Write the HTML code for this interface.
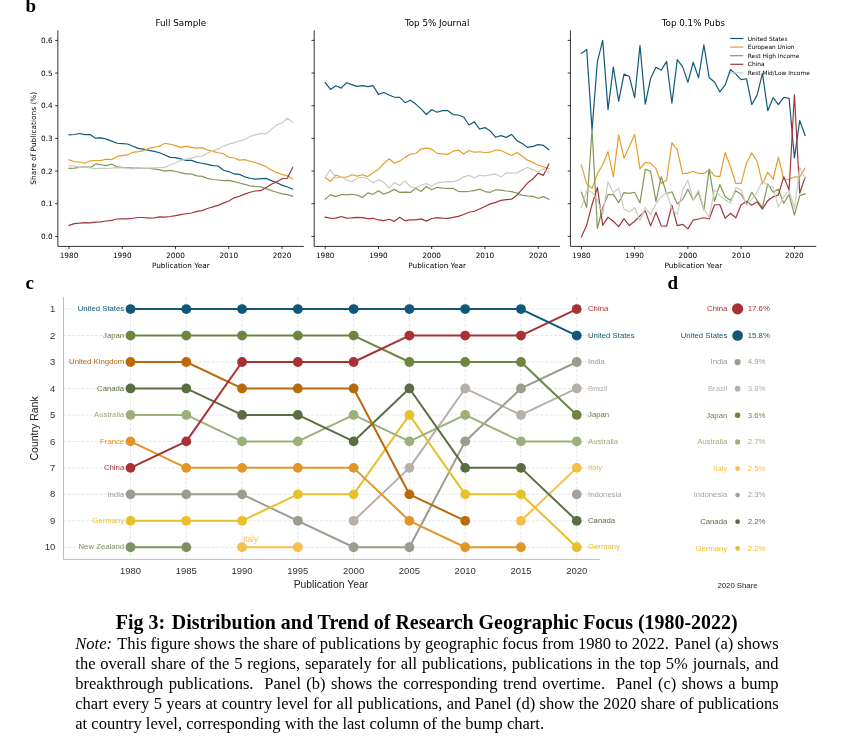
<!DOCTYPE html>
<html lang="en"><head><meta charset="utf-8"><title>Fig 3: Distribution and Trend of Research Geographic Focus</title>
<style>
html,body{margin:0;padding:0;background:#fff;}
body{width:863px;height:753px;position:relative;overflow:hidden;}
svg{position:absolute;left:0;top:0;display:block;}
svg text{white-space:pre;}
.title{position:absolute;left:115.8px;top:610.0px;font:bold 19.93px/24px "Liberation Serif","Times New Roman",serif;color:#000;white-space:nowrap;}
.ln{position:absolute;left:75.3px;height:20px;font:16.5px/20px "Liberation Serif","Times New Roman",serif;color:#000;white-space:nowrap;}
</style></head><body>
<svg width="863" height="753" viewBox="0 0 863 753">
<g>
<polyline points="69.00,134.94 74.33,134.50 79.65,133.48 84.97,134.65 90.30,134.65 95.62,138.15 100.95,137.86 106.28,139.18 111.60,141.08 116.93,143.27 122.25,143.56 127.58,144.00 132.90,146.19 138.23,148.38 143.55,149.12 148.88,150.29 154.20,151.31 159.53,152.77 164.85,154.96 170.18,157.34 175.50,157.71 180.82,158.81 186.15,160.40 191.48,160.40 196.80,162.32 202.12,163.27 207.45,164.39 212.78,165.66 218.10,165.98 223.43,170.28 228.75,171.56 234.08,173.95 239.40,174.42 244.72,176.81 250.05,178.25 255.38,179.04 260.70,178.72 266.02,178.41 271.35,180.64 276.68,182.71 282.00,185.10 287.33,187.01 292.65,189.08" fill="none" stroke="#115a79" stroke-width="1.2" stroke-linejoin="round" stroke-linecap="square"/>
<polyline points="69.00,159.79 74.33,161.54 79.65,161.98 84.97,163.29 90.30,160.81 95.62,160.52 100.95,160.52 106.28,159.05 111.60,159.64 116.93,156.42 122.25,155.69 127.58,154.96 132.90,152.33 138.23,151.60 143.55,150.58 148.88,148.38 154.20,147.22 159.53,146.19 164.85,143.27 170.18,144.24 175.50,145.61 180.82,147.66 186.15,146.07 191.48,147.34 196.80,148.14 202.12,147.66 207.45,150.05 212.78,151.32 218.10,152.76 223.43,153.71 228.75,157.22 234.08,158.01 239.40,160.09 244.72,159.61 250.05,161.20 255.38,162.79 260.70,164.39 266.02,166.78 271.35,169.96 276.68,172.67 282.00,174.42 287.33,175.86 292.65,179.04" fill="none" stroke="#e79d28" stroke-width="1.2" stroke-linejoin="round" stroke-linecap="square"/>
<polyline points="69.00,168.41 74.33,168.12 79.65,167.39 84.97,166.65 90.30,167.39 95.62,163.88 100.95,164.75 106.28,165.63 111.60,164.02 116.93,166.95 122.25,167.39 127.58,167.68 132.90,168.12 138.23,168.12 143.55,168.41 148.88,168.41 154.20,168.85 159.53,169.87 164.85,171.19 170.18,170.44 175.50,171.52 180.82,172.67 186.15,173.95 191.48,173.95 196.80,175.86 202.12,176.34 207.45,178.41 212.78,179.52 218.10,180.00 223.43,180.64 228.75,180.32 234.08,181.59 239.40,183.03 244.72,184.30 250.05,185.89 255.38,186.37 260.70,186.69 266.02,188.60 271.35,190.67 276.68,192.27 282.00,193.86 287.33,194.66 292.65,196.25" fill="none" stroke="#82975a" stroke-width="1.2" stroke-linejoin="round" stroke-linecap="square"/>
<polyline points="69.00,225.41 74.33,223.66 79.65,223.22 84.97,222.63 90.30,222.92 95.62,222.19 100.95,221.90 106.28,221.02 111.60,220.44 116.93,218.98 122.25,218.83 127.58,218.83 132.90,218.25 138.23,217.52 143.55,217.52 148.88,218.10 154.20,217.96 159.53,216.93 164.85,217.08 170.18,216.49 175.50,215.66 180.82,214.57 186.15,213.77 191.48,212.98 196.80,211.38 202.12,210.59 207.45,208.52 212.78,206.92 218.10,205.33 223.43,203.10 228.75,201.03 234.08,197.84 239.40,196.25 244.72,194.18 250.05,192.27 255.38,190.99 260.70,190.67 266.02,187.49 271.35,184.30 276.68,181.91 282.00,178.72 287.33,178.25 292.65,167.57" fill="none" stroke="#a3353a" stroke-width="1.2" stroke-linejoin="round" stroke-linecap="square"/>
<polyline points="69.00,165.92 74.33,165.92 79.65,167.39 84.97,166.80 90.30,167.82 95.62,168.55 100.95,168.26 106.28,168.41 111.60,168.12 116.93,167.68 122.25,167.82 127.58,168.12 132.90,168.85 138.23,167.82 143.55,168.26 148.88,168.12 154.20,167.82 159.53,167.53 164.85,167.39 170.18,164.97 175.50,162.77 180.82,160.40 186.15,159.13 191.48,158.33 196.80,156.42 202.12,156.10 207.45,153.23 212.78,150.85 218.10,148.93 223.43,146.07 228.75,144.15 234.08,142.88 239.40,140.81 244.72,139.69 250.05,136.51 255.38,134.91 260.70,133.32 266.02,133.80 271.35,129.34 276.68,124.88 282.00,122.97 287.33,118.19 292.65,122.17" fill="none" stroke="#cbcbc4" stroke-width="1.2" stroke-linejoin="round" stroke-linecap="square"/>
<path d="M57.85 30.3 V246.4 H303.75" fill="none" stroke="#000" stroke-width="0.8"/>
<line x1="55.15" x2="57.85" y1="236.40" y2="236.40" stroke="#000" stroke-width="0.8"/>
<text x="52.65" y="239.15" font-family="DejaVu Sans, Liberation Sans, sans-serif" font-size="7.3" text-anchor="end" fill="#000">0.0</text>
<line x1="55.15" x2="57.85" y1="203.73" y2="203.73" stroke="#000" stroke-width="0.8"/>
<text x="52.65" y="206.48" font-family="DejaVu Sans, Liberation Sans, sans-serif" font-size="7.3" text-anchor="end" fill="#000">0.1</text>
<line x1="55.15" x2="57.85" y1="171.07" y2="171.07" stroke="#000" stroke-width="0.8"/>
<text x="52.65" y="173.82" font-family="DejaVu Sans, Liberation Sans, sans-serif" font-size="7.3" text-anchor="end" fill="#000">0.2</text>
<line x1="55.15" x2="57.85" y1="138.40" y2="138.40" stroke="#000" stroke-width="0.8"/>
<text x="52.65" y="141.15" font-family="DejaVu Sans, Liberation Sans, sans-serif" font-size="7.3" text-anchor="end" fill="#000">0.3</text>
<line x1="55.15" x2="57.85" y1="105.73" y2="105.73" stroke="#000" stroke-width="0.8"/>
<text x="52.65" y="108.48" font-family="DejaVu Sans, Liberation Sans, sans-serif" font-size="7.3" text-anchor="end" fill="#000">0.4</text>
<line x1="55.15" x2="57.85" y1="73.06" y2="73.06" stroke="#000" stroke-width="0.8"/>
<text x="52.65" y="75.81" font-family="DejaVu Sans, Liberation Sans, sans-serif" font-size="7.3" text-anchor="end" fill="#000">0.5</text>
<line x1="55.15" x2="57.85" y1="40.40" y2="40.40" stroke="#000" stroke-width="0.8"/>
<text x="52.65" y="43.15" font-family="DejaVu Sans, Liberation Sans, sans-serif" font-size="7.3" text-anchor="end" fill="#000">0.6</text>
<line x1="69.00" x2="69.00" y1="246.4" y2="249.1" stroke="#000" stroke-width="0.8"/>
<text x="69.00" y="257.70" font-family="DejaVu Sans, Liberation Sans, sans-serif" font-size="7.3" text-anchor="middle" fill="#000">1980</text>
<line x1="122.25" x2="122.25" y1="246.4" y2="249.1" stroke="#000" stroke-width="0.8"/>
<text x="122.25" y="257.70" font-family="DejaVu Sans, Liberation Sans, sans-serif" font-size="7.3" text-anchor="middle" fill="#000">1990</text>
<line x1="175.50" x2="175.50" y1="246.4" y2="249.1" stroke="#000" stroke-width="0.8"/>
<text x="175.50" y="257.70" font-family="DejaVu Sans, Liberation Sans, sans-serif" font-size="7.3" text-anchor="middle" fill="#000">2000</text>
<line x1="228.75" x2="228.75" y1="246.4" y2="249.1" stroke="#000" stroke-width="0.8"/>
<text x="228.75" y="257.70" font-family="DejaVu Sans, Liberation Sans, sans-serif" font-size="7.3" text-anchor="middle" fill="#000">2010</text>
<line x1="282.00" x2="282.00" y1="246.4" y2="249.1" stroke="#000" stroke-width="0.8"/>
<text x="282.00" y="257.70" font-family="DejaVu Sans, Liberation Sans, sans-serif" font-size="7.3" text-anchor="middle" fill="#000">2020</text>
<text x="180.80" y="267.90" font-family="DejaVu Sans, Liberation Sans, sans-serif" font-size="7.3" text-anchor="middle" fill="#000">Publication Year</text>
<text x="180.80" y="26.2" font-family="DejaVu Sans, Liberation Sans, sans-serif" font-size="8.76" text-anchor="middle" fill="#000">Full Sample</text>
</g>
<g>
<polyline points="325.20,82.51 330.52,89.47 335.85,85.71 341.18,88.08 346.50,82.79 351.82,84.60 357.15,86.41 362.47,85.71 367.80,86.69 373.12,85.57 378.45,94.33 383.77,92.53 389.10,95.03 394.43,97.25 399.75,97.39 405.07,102.68 410.40,100.17 415.73,104.07 421.05,108.93 426.38,114.52 431.70,109.56 437.02,112.25 442.35,110.64 447.68,110.50 453.00,114.55 458.32,114.99 463.65,117.02 468.98,124.98 474.30,121.80 479.62,129.04 484.95,127.59 490.27,130.92 495.60,137.29 500.92,135.56 506.25,137.44 511.57,134.40 516.90,140.63 522.23,143.52 527.55,147.43 532.88,146.42 538.20,144.68 543.52,145.41 548.85,149.61" fill="none" stroke="#115a79" stroke-width="1.2" stroke-linejoin="round" stroke-linecap="square"/>
<polyline points="325.20,177.54 330.52,181.43 335.85,175.04 341.18,177.12 346.50,177.26 351.82,174.76 357.15,176.15 362.47,174.76 367.80,176.57 373.12,172.68 378.45,169.20 383.77,163.64 389.10,158.77 394.43,163.22 399.75,161.13 405.07,157.38 410.40,154.18 415.73,153.49 421.05,149.04 426.38,148.18 431.70,149.18 437.02,153.36 442.35,153.95 447.68,154.39 453.00,151.20 458.32,150.04 463.65,154.10 468.98,150.48 474.30,152.21 479.62,151.78 484.95,152.50 490.27,152.21 495.60,150.04 500.92,150.48 506.25,152.94 511.57,155.54 516.90,152.50 522.23,156.27 527.55,160.18 532.88,162.35 538.20,165.25 543.52,166.99 548.85,168.44" fill="none" stroke="#e79d28" stroke-width="1.2" stroke-linejoin="round" stroke-linecap="square"/>
<polyline points="325.20,199.09 330.52,194.64 335.85,196.59 341.18,194.51 346.50,194.92 351.82,194.23 357.15,195.20 362.47,197.42 367.80,192.84 373.12,194.23 378.45,190.75 383.77,194.23 389.10,192.14 394.43,189.36 399.75,192.42 405.07,192.14 410.40,192.42 415.73,188.25 421.05,191.45 426.38,186.48 431.70,189.81 437.02,187.25 442.35,188.09 447.68,188.38 453.00,188.38 458.32,191.28 463.65,191.57 468.98,191.28 474.30,190.56 479.62,189.11 484.95,191.57 490.27,192.29 495.60,189.83 500.92,190.12 506.25,190.99 511.57,191.57 516.90,193.02 522.23,195.34 527.55,195.92 532.88,196.35 538.20,198.23 543.52,196.64 548.85,199.25" fill="none" stroke="#82975a" stroke-width="1.2" stroke-linejoin="round" stroke-linecap="square"/>
<polyline points="325.20,217.17 330.52,218.28 335.85,218.14 341.18,216.47 346.50,218.14 351.82,217.86 357.15,217.45 362.47,217.59 367.80,218.56 373.12,218.28 378.45,219.95 383.77,220.65 389.10,219.25 394.43,221.34 399.75,217.17 405.07,220.65 410.40,219.95 415.73,219.95 421.05,218.84 426.38,221.16 431.70,218.47 437.02,217.54 442.35,218.08 447.68,218.37 453.00,217.35 458.32,216.34 463.65,214.46 468.98,212.28 474.30,211.27 479.62,208.95 484.95,206.49 490.27,203.88 495.60,202.43 500.92,200.41 506.25,199.54 511.57,199.25 516.90,195.19 522.23,189.11 527.55,183.02 532.88,178.97 538.20,173.17 543.52,175.35 548.85,164.05" fill="none" stroke="#a3353a" stroke-width="1.2" stroke-linejoin="round" stroke-linecap="square"/>
<polyline points="325.20,177.26 330.52,169.62 335.85,178.24 341.18,176.85 346.50,179.91 351.82,181.99 357.15,178.24 362.47,177.26 367.80,178.65 373.12,183.10 378.45,179.63 383.77,182.41 389.10,187.97 394.43,182.69 399.75,185.47 405.07,180.60 410.40,187.00 415.73,187.69 421.05,185.19 426.38,183.56 431.70,186.25 437.02,183.07 442.35,182.16 447.68,181.58 453.00,181.87 458.32,180.13 463.65,176.80 468.98,175.35 474.30,177.81 479.62,175.35 484.95,175.78 490.27,174.91 495.60,173.90 500.92,177.09 506.25,172.89 511.57,173.17 516.90,172.89 522.23,169.99 527.55,167.38 532.88,169.84 538.20,172.16 543.52,168.83 548.85,172.89" fill="none" stroke="#cbcbc4" stroke-width="1.2" stroke-linejoin="round" stroke-linecap="square"/>
<path d="M314.20 30.3 V246.4 H560.10" fill="none" stroke="#000" stroke-width="0.8"/>
<line x1="311.50" x2="314.20" y1="236.40" y2="236.40" stroke="#000" stroke-width="0.8"/>
<line x1="311.50" x2="314.20" y1="203.73" y2="203.73" stroke="#000" stroke-width="0.8"/>
<line x1="311.50" x2="314.20" y1="171.07" y2="171.07" stroke="#000" stroke-width="0.8"/>
<line x1="311.50" x2="314.20" y1="138.40" y2="138.40" stroke="#000" stroke-width="0.8"/>
<line x1="311.50" x2="314.20" y1="105.73" y2="105.73" stroke="#000" stroke-width="0.8"/>
<line x1="311.50" x2="314.20" y1="73.06" y2="73.06" stroke="#000" stroke-width="0.8"/>
<line x1="311.50" x2="314.20" y1="40.40" y2="40.40" stroke="#000" stroke-width="0.8"/>
<line x1="325.20" x2="325.20" y1="246.4" y2="249.1" stroke="#000" stroke-width="0.8"/>
<text x="325.20" y="257.70" font-family="DejaVu Sans, Liberation Sans, sans-serif" font-size="7.3" text-anchor="middle" fill="#000">1980</text>
<line x1="378.45" x2="378.45" y1="246.4" y2="249.1" stroke="#000" stroke-width="0.8"/>
<text x="378.45" y="257.70" font-family="DejaVu Sans, Liberation Sans, sans-serif" font-size="7.3" text-anchor="middle" fill="#000">1990</text>
<line x1="431.70" x2="431.70" y1="246.4" y2="249.1" stroke="#000" stroke-width="0.8"/>
<text x="431.70" y="257.70" font-family="DejaVu Sans, Liberation Sans, sans-serif" font-size="7.3" text-anchor="middle" fill="#000">2000</text>
<line x1="484.95" x2="484.95" y1="246.4" y2="249.1" stroke="#000" stroke-width="0.8"/>
<text x="484.95" y="257.70" font-family="DejaVu Sans, Liberation Sans, sans-serif" font-size="7.3" text-anchor="middle" fill="#000">2010</text>
<line x1="538.20" x2="538.20" y1="246.4" y2="249.1" stroke="#000" stroke-width="0.8"/>
<text x="538.20" y="257.70" font-family="DejaVu Sans, Liberation Sans, sans-serif" font-size="7.3" text-anchor="middle" fill="#000">2020</text>
<text x="437.15" y="267.90" font-family="DejaVu Sans, Liberation Sans, sans-serif" font-size="7.3" text-anchor="middle" fill="#000">Publication Year</text>
<text x="437.15" y="26.2" font-family="DejaVu Sans, Liberation Sans, sans-serif" font-size="8.76" text-anchor="middle" fill="#000">Top 5% Journal</text>
</g>
<g>
<polyline points="581.40,53.40 586.73,49.48 592.05,129.87 597.38,61.80 602.70,40.36 608.02,109.59 613.35,67.16 618.67,101.19 624.00,74.11 629.32,76.57 634.65,97.72 639.98,45.57 645.30,104.09 650.62,78.45 655.95,67.30 661.27,70.20 666.60,61.36 671.92,103.08 677.25,59.62 682.57,66.58 687.90,82.36 693.23,62.23 698.55,77.73 703.88,44.85 709.20,77.73 714.52,82.07 719.85,91.92 725.17,84.97 730.50,69.47 735.83,74.11 741.15,79.61 746.48,78.74 751.80,104.52 757.12,95.11 762.45,73.38 767.77,110.75 773.10,97.72 778.42,104.52 783.75,97.28 789.08,98.30 794.40,157.90 799.73,120.50 805.05,135.40" fill="none" stroke="#115a79" stroke-width="1.2" stroke-linejoin="round" stroke-linecap="square"/>
<polyline points="581.40,165.04 586.73,183.83 592.05,188.42 597.38,173.90 602.70,164.73 608.02,151.74 613.35,176.96 618.67,134.93 624.00,158.16 629.32,146.39 634.65,134.47 639.98,168.86 645.30,162.44 650.62,163.20 655.95,168.55 661.27,183.37 666.60,180.01 671.92,142.57 677.25,149.91 682.57,173.59 687.90,173.14 693.23,171.30 698.55,173.44 703.88,173.44 709.20,169.62 714.52,175.89 719.85,176.65 725.17,152.51 730.50,167.02 735.83,183.37 741.15,183.37 746.48,163.20 751.80,152.96 757.12,161.22 762.45,183.83 767.77,172.37 773.10,179.25 778.42,157.09 783.75,179.25 789.08,179.25 794.40,176.96 799.73,176.96 805.05,168.25" fill="none" stroke="#e79d28" stroke-width="1.2" stroke-linejoin="round" stroke-linecap="square"/>
<polyline points="581.40,192.24 586.73,207.52 592.05,129.58 597.38,228.45 602.70,207.52 608.02,194.53 613.35,194.53 618.67,202.63 624.00,192.54 629.32,193.31 634.65,192.24 639.98,202.93 645.30,169.32 650.62,171.30 655.95,201.41 661.27,176.65 666.60,193.77 671.92,191.78 677.25,204.00 682.57,199.42 687.90,189.18 693.23,199.88 698.55,192.62 703.88,209.81 709.20,169.01 714.52,201.41 719.85,184.60 725.17,196.82 730.50,200.34 735.83,190.71 741.15,194.53 746.48,203.70 751.80,192.24 757.12,200.34 762.45,207.52 767.77,183.83 773.10,192.24 778.42,189.18 783.75,203.24 789.08,194.53 794.40,215.16 799.73,195.60 805.05,193.77" fill="none" stroke="#82975a" stroke-width="1.2" stroke-linejoin="round" stroke-linecap="square"/>
<polyline points="581.40,237.01 586.73,225.09 592.05,204.46 597.38,187.35 602.70,225.40 608.02,217.15 613.35,221.27 618.67,226.62 624.00,218.67 629.32,225.55 634.65,221.27 639.98,215.92 645.30,210.88 650.62,225.86 655.95,212.41 661.27,225.86 666.60,226.16 671.92,205.23 677.25,225.55 682.57,224.33 687.90,228.91 693.23,220.05 698.55,218.98 703.88,217.76 709.20,218.98 714.52,204.77 719.85,204.77 725.17,218.22 730.50,213.33 735.83,217.76 741.15,204.77 746.48,201.41 751.80,205.23 757.12,201.86 762.45,209.05 767.77,200.64 773.10,196.82 778.42,194.83 783.75,176.65 789.08,189.94 794.40,94.70 799.73,193.31 805.05,177.41" fill="none" stroke="#a3353a" stroke-width="1.2" stroke-linejoin="round" stroke-linecap="square"/>
<polyline points="581.40,207.52 586.73,190.71 592.05,192.24 597.38,199.88 602.70,214.39 608.02,181.85 613.35,193.00 618.67,188.11 624.00,209.05 629.32,212.10 634.65,207.52 639.98,220.51 645.30,207.52 650.62,214.70 655.95,203.70 661.27,196.82 666.60,192.24 671.92,209.05 677.25,214.39 682.57,189.94 687.90,180.32 693.23,199.88 698.55,189.94 703.88,209.05 709.20,217.45 714.52,189.94 719.85,195.60 725.17,199.88 730.50,203.24 735.83,187.65 741.15,189.94 746.48,205.23 751.80,199.42 757.12,192.24 762.45,180.78 767.77,185.36 773.10,187.19 778.42,207.06 783.75,196.82 789.08,190.71 794.40,208.74 799.73,167.33 805.05,178.48" fill="none" stroke="#cbcbc4" stroke-width="1.2" stroke-linejoin="round" stroke-linecap="square"/>
<path d="M570.40 30.3 V246.4 H816.30" fill="none" stroke="#000" stroke-width="0.8"/>
<line x1="567.70" x2="570.40" y1="236.40" y2="236.40" stroke="#000" stroke-width="0.8"/>
<line x1="567.70" x2="570.40" y1="203.73" y2="203.73" stroke="#000" stroke-width="0.8"/>
<line x1="567.70" x2="570.40" y1="171.07" y2="171.07" stroke="#000" stroke-width="0.8"/>
<line x1="567.70" x2="570.40" y1="138.40" y2="138.40" stroke="#000" stroke-width="0.8"/>
<line x1="567.70" x2="570.40" y1="105.73" y2="105.73" stroke="#000" stroke-width="0.8"/>
<line x1="567.70" x2="570.40" y1="73.06" y2="73.06" stroke="#000" stroke-width="0.8"/>
<line x1="567.70" x2="570.40" y1="40.40" y2="40.40" stroke="#000" stroke-width="0.8"/>
<line x1="581.40" x2="581.40" y1="246.4" y2="249.1" stroke="#000" stroke-width="0.8"/>
<text x="581.40" y="257.70" font-family="DejaVu Sans, Liberation Sans, sans-serif" font-size="7.3" text-anchor="middle" fill="#000">1980</text>
<line x1="634.65" x2="634.65" y1="246.4" y2="249.1" stroke="#000" stroke-width="0.8"/>
<text x="634.65" y="257.70" font-family="DejaVu Sans, Liberation Sans, sans-serif" font-size="7.3" text-anchor="middle" fill="#000">1990</text>
<line x1="687.90" x2="687.90" y1="246.4" y2="249.1" stroke="#000" stroke-width="0.8"/>
<text x="687.90" y="257.70" font-family="DejaVu Sans, Liberation Sans, sans-serif" font-size="7.3" text-anchor="middle" fill="#000">2000</text>
<line x1="741.15" x2="741.15" y1="246.4" y2="249.1" stroke="#000" stroke-width="0.8"/>
<text x="741.15" y="257.70" font-family="DejaVu Sans, Liberation Sans, sans-serif" font-size="7.3" text-anchor="middle" fill="#000">2010</text>
<line x1="794.40" x2="794.40" y1="246.4" y2="249.1" stroke="#000" stroke-width="0.8"/>
<text x="794.40" y="257.70" font-family="DejaVu Sans, Liberation Sans, sans-serif" font-size="7.3" text-anchor="middle" fill="#000">2020</text>
<text x="693.35" y="267.90" font-family="DejaVu Sans, Liberation Sans, sans-serif" font-size="7.3" text-anchor="middle" fill="#000">Publication Year</text>
<text x="693.35" y="26.2" font-family="DejaVu Sans, Liberation Sans, sans-serif" font-size="8.76" text-anchor="middle" fill="#000">Top 0.1% Pubs</text>
</g>
<text transform="translate(35.6 138.2) rotate(-90)" font-family="DejaVu Sans, Liberation Sans, sans-serif" font-size="7.42" text-anchor="middle" fill="#000">Share of Publications (%)</text>
<line x1="730.2" x2="743.3" y1="38.50" y2="38.50" stroke="#115a79" stroke-width="1.2"/>
<text x="747.8" y="40.60" font-family="DejaVu Sans, Liberation Sans, sans-serif" font-size="5.86" fill="#000">United States</text>
<line x1="730.2" x2="743.3" y1="47.10" y2="47.10" stroke="#e79d28" stroke-width="1.2"/>
<text x="747.8" y="49.20" font-family="DejaVu Sans, Liberation Sans, sans-serif" font-size="5.86" fill="#000">European Union</text>
<line x1="730.2" x2="743.3" y1="55.70" y2="55.70" stroke="#82975a" stroke-width="1.2"/>
<text x="747.8" y="57.80" font-family="DejaVu Sans, Liberation Sans, sans-serif" font-size="5.86" fill="#000">Rest High Income</text>
<line x1="730.2" x2="743.3" y1="64.30" y2="64.30" stroke="#a3353a" stroke-width="1.2"/>
<text x="747.8" y="66.40" font-family="DejaVu Sans, Liberation Sans, sans-serif" font-size="5.86" fill="#000">China</text>
<line x1="730.2" x2="743.3" y1="72.90" y2="72.90" stroke="#cbcbc4" stroke-width="1.2"/>
<text x="747.8" y="75.00" font-family="DejaVu Sans, Liberation Sans, sans-serif" font-size="5.86" fill="#000">Rest Mid/Low Income</text>
<text x="25.5" y="11.5" font-family="Liberation Serif, Times New Roman, serif" font-size="19" font-weight="bold" fill="#000">b</text>
<text x="25.5" y="289.2" font-family="Liberation Serif, Times New Roman, serif" font-size="19" font-weight="bold" fill="#000">c</text>
<text x="667.5" y="288.8" font-family="Liberation Serif, Times New Roman, serif" font-size="19" font-weight="bold" fill="#000">d</text>
<line x1="63.5" x2="599.8" y1="309.07" y2="309.07" stroke="#dedede" stroke-width="0.8" stroke-dasharray="3 1.5"/>
<text x="55.3" y="312.17" font-family="Liberation Sans, Arial, sans-serif" font-size="9.5" text-anchor="end" fill="#333">1</text>
<line x1="63.5" x2="599.8" y1="335.54" y2="335.54" stroke="#dedede" stroke-width="0.8" stroke-dasharray="3 1.5"/>
<text x="55.3" y="338.64" font-family="Liberation Sans, Arial, sans-serif" font-size="9.5" text-anchor="end" fill="#333">2</text>
<line x1="63.5" x2="599.8" y1="362.00" y2="362.00" stroke="#dedede" stroke-width="0.8" stroke-dasharray="3 1.5"/>
<text x="55.3" y="365.10" font-family="Liberation Sans, Arial, sans-serif" font-size="9.5" text-anchor="end" fill="#333">3</text>
<line x1="63.5" x2="599.8" y1="388.47" y2="388.47" stroke="#dedede" stroke-width="0.8" stroke-dasharray="3 1.5"/>
<text x="55.3" y="391.57" font-family="Liberation Sans, Arial, sans-serif" font-size="9.5" text-anchor="end" fill="#333">4</text>
<line x1="63.5" x2="599.8" y1="414.94" y2="414.94" stroke="#dedede" stroke-width="0.8" stroke-dasharray="3 1.5"/>
<text x="55.3" y="418.04" font-family="Liberation Sans, Arial, sans-serif" font-size="9.5" text-anchor="end" fill="#333">5</text>
<line x1="63.5" x2="599.8" y1="441.40" y2="441.40" stroke="#dedede" stroke-width="0.8" stroke-dasharray="3 1.5"/>
<text x="55.3" y="444.50" font-family="Liberation Sans, Arial, sans-serif" font-size="9.5" text-anchor="end" fill="#333">6</text>
<line x1="63.5" x2="599.8" y1="467.87" y2="467.87" stroke="#dedede" stroke-width="0.8" stroke-dasharray="3 1.5"/>
<text x="55.3" y="470.97" font-family="Liberation Sans, Arial, sans-serif" font-size="9.5" text-anchor="end" fill="#333">7</text>
<line x1="63.5" x2="599.8" y1="494.34" y2="494.34" stroke="#dedede" stroke-width="0.8" stroke-dasharray="3 1.5"/>
<text x="55.3" y="497.44" font-family="Liberation Sans, Arial, sans-serif" font-size="9.5" text-anchor="end" fill="#333">8</text>
<line x1="63.5" x2="599.8" y1="520.81" y2="520.81" stroke="#dedede" stroke-width="0.8" stroke-dasharray="3 1.5"/>
<text x="55.3" y="523.91" font-family="Liberation Sans, Arial, sans-serif" font-size="9.5" text-anchor="end" fill="#333">9</text>
<line x1="63.5" x2="599.8" y1="547.27" y2="547.27" stroke="#dedede" stroke-width="0.8" stroke-dasharray="3 1.5"/>
<text x="55.3" y="550.37" font-family="Liberation Sans, Arial, sans-serif" font-size="9.5" text-anchor="end" fill="#333">10</text>
<line x1="130.50" x2="130.50" y1="297.1" y2="559.4" stroke="#dedede" stroke-width="0.8" stroke-dasharray="3 1.5"/>
<text x="130.50" y="574.2" font-family="Liberation Sans, Arial, sans-serif" font-size="9.5" text-anchor="middle" fill="#333">1980</text>
<line x1="186.28" x2="186.28" y1="297.1" y2="559.4" stroke="#dedede" stroke-width="0.8" stroke-dasharray="3 1.5"/>
<text x="186.28" y="574.2" font-family="Liberation Sans, Arial, sans-serif" font-size="9.5" text-anchor="middle" fill="#333">1985</text>
<line x1="242.06" x2="242.06" y1="297.1" y2="559.4" stroke="#dedede" stroke-width="0.8" stroke-dasharray="3 1.5"/>
<text x="242.06" y="574.2" font-family="Liberation Sans, Arial, sans-serif" font-size="9.5" text-anchor="middle" fill="#333">1990</text>
<line x1="297.84" x2="297.84" y1="297.1" y2="559.4" stroke="#dedede" stroke-width="0.8" stroke-dasharray="3 1.5"/>
<text x="297.84" y="574.2" font-family="Liberation Sans, Arial, sans-serif" font-size="9.5" text-anchor="middle" fill="#333">1995</text>
<line x1="353.62" x2="353.62" y1="297.1" y2="559.4" stroke="#dedede" stroke-width="0.8" stroke-dasharray="3 1.5"/>
<text x="353.62" y="574.2" font-family="Liberation Sans, Arial, sans-serif" font-size="9.5" text-anchor="middle" fill="#333">2000</text>
<line x1="409.40" x2="409.40" y1="297.1" y2="559.4" stroke="#dedede" stroke-width="0.8" stroke-dasharray="3 1.5"/>
<text x="409.40" y="574.2" font-family="Liberation Sans, Arial, sans-serif" font-size="9.5" text-anchor="middle" fill="#333">2005</text>
<line x1="465.18" x2="465.18" y1="297.1" y2="559.4" stroke="#dedede" stroke-width="0.8" stroke-dasharray="3 1.5"/>
<text x="465.18" y="574.2" font-family="Liberation Sans, Arial, sans-serif" font-size="9.5" text-anchor="middle" fill="#333">2010</text>
<line x1="520.96" x2="520.96" y1="297.1" y2="559.4" stroke="#dedede" stroke-width="0.8" stroke-dasharray="3 1.5"/>
<text x="520.96" y="574.2" font-family="Liberation Sans, Arial, sans-serif" font-size="9.5" text-anchor="middle" fill="#333">2015</text>
<line x1="576.74" x2="576.74" y1="297.1" y2="559.4" stroke="#dedede" stroke-width="0.8" stroke-dasharray="3 1.5"/>
<text x="576.74" y="574.2" font-family="Liberation Sans, Arial, sans-serif" font-size="9.5" text-anchor="middle" fill="#333">2020</text>
<path d="M63.5 297.1 V559.4 H599.8" fill="none" stroke="#bebebe" stroke-width="1"/>
<text x="330.9" y="587.8" font-family="Liberation Sans, Arial, sans-serif" font-size="10.4" text-anchor="middle" fill="#222">Publication Year</text>
<text transform="translate(38.2 428.4) rotate(-90)" font-family="Liberation Sans, Arial, sans-serif" font-size="10.5" text-anchor="middle" fill="#222">Country Rank</text>
<polyline points="130.50,547.27 186.28,547.27" fill="none" stroke="#7d9260" stroke-width="2" stroke-linejoin="round"/>
<circle cx="130.50" cy="547.27" r="4.9" fill="#7d9260"/>
<circle cx="186.28" cy="547.27" r="4.9" fill="#7d9260"/>
<text x="124.2" y="549.47" font-family="Liberation Sans, Arial, sans-serif" font-size="7.75" text-anchor="end" fill="#7d9260">New Zealand</text>
<circle cx="576.74" cy="494.34" r="4.9" fill="#a3a39a"/>
<text x="588.0" y="496.54" font-family="Liberation Sans, Arial, sans-serif" font-size="7.75" fill="#a3a39a">Indonesia</text>
<polyline points="353.62,520.81 409.40,467.87 465.18,388.47 520.96,414.94 576.74,388.47" fill="none" stroke="#b7b0a8" stroke-width="2" stroke-linejoin="round"/>
<circle cx="353.62" cy="520.81" r="4.9" fill="#b7b0a8"/>
<circle cx="409.40" cy="467.87" r="4.9" fill="#b7b0a8"/>
<circle cx="465.18" cy="388.47" r="4.9" fill="#b7b0a8"/>
<circle cx="520.96" cy="414.94" r="4.9" fill="#b7b0a8"/>
<circle cx="576.74" cy="388.47" r="4.9" fill="#b7b0a8"/>
<text x="588.0" y="390.67" font-family="Liberation Sans, Arial, sans-serif" font-size="7.75" fill="#b7b0a8">Brazil</text>
<polyline points="242.06,547.27 297.84,547.27" fill="none" stroke="#f6be4b" stroke-width="2" stroke-linejoin="round"/>
<circle cx="242.06" cy="547.27" r="4.9" fill="#f6be4b"/>
<circle cx="297.84" cy="547.27" r="4.9" fill="#f6be4b"/>
<polyline points="520.96,520.81 576.74,467.87" fill="none" stroke="#f6be4b" stroke-width="2" stroke-linejoin="round"/>
<circle cx="520.96" cy="520.81" r="4.9" fill="#f6be4b"/>
<circle cx="576.74" cy="467.87" r="4.9" fill="#f6be4b"/>
<text x="243.06" y="541.97" font-family="Liberation Sans, Arial, sans-serif" font-size="8.15" fill="#f6be4b">Italy</text>
<text x="588.0" y="470.07" font-family="Liberation Sans, Arial, sans-serif" font-size="7.75" fill="#f6be4b">Italy</text>
<polyline points="130.50,494.34 186.28,494.34 242.06,494.34 297.84,520.81 353.62,547.27 409.40,547.27 465.18,441.40 520.96,388.47 576.74,362.00" fill="none" stroke="#9b9b8e" stroke-width="2" stroke-linejoin="round"/>
<circle cx="130.50" cy="494.34" r="4.9" fill="#9b9b8e"/>
<circle cx="186.28" cy="494.34" r="4.9" fill="#9b9b8e"/>
<circle cx="242.06" cy="494.34" r="4.9" fill="#9b9b8e"/>
<circle cx="297.84" cy="520.81" r="4.9" fill="#9b9b8e"/>
<circle cx="353.62" cy="547.27" r="4.9" fill="#9b9b8e"/>
<circle cx="409.40" cy="547.27" r="4.9" fill="#9b9b8e"/>
<circle cx="465.18" cy="441.40" r="4.9" fill="#9b9b8e"/>
<circle cx="520.96" cy="388.47" r="4.9" fill="#9b9b8e"/>
<circle cx="576.74" cy="362.00" r="4.9" fill="#9b9b8e"/>
<text x="124.2" y="496.54" font-family="Liberation Sans, Arial, sans-serif" font-size="7.75" text-anchor="end" fill="#9b9b8e">India</text>
<text x="588.0" y="364.20" font-family="Liberation Sans, Arial, sans-serif" font-size="7.75" fill="#9b9b8e">India</text>
<polyline points="130.50,520.81 186.28,520.81 242.06,520.81 297.84,494.34 353.62,494.34 409.40,414.94 465.18,494.34 520.96,494.34 576.74,547.27" fill="none" stroke="#e8c02c" stroke-width="2" stroke-linejoin="round"/>
<circle cx="130.50" cy="520.81" r="4.9" fill="#e8c02c"/>
<circle cx="186.28" cy="520.81" r="4.9" fill="#e8c02c"/>
<circle cx="242.06" cy="520.81" r="4.9" fill="#e8c02c"/>
<circle cx="297.84" cy="494.34" r="4.9" fill="#e8c02c"/>
<circle cx="353.62" cy="494.34" r="4.9" fill="#e8c02c"/>
<circle cx="409.40" cy="414.94" r="4.9" fill="#e8c02c"/>
<circle cx="465.18" cy="494.34" r="4.9" fill="#e8c02c"/>
<circle cx="520.96" cy="494.34" r="4.9" fill="#e8c02c"/>
<circle cx="576.74" cy="547.27" r="4.9" fill="#e8c02c"/>
<text x="124.2" y="523.01" font-family="Liberation Sans, Arial, sans-serif" font-size="7.75" text-anchor="end" fill="#e8c02c">Germany</text>
<text x="588.0" y="549.47" font-family="Liberation Sans, Arial, sans-serif" font-size="7.75" fill="#e8c02c">Germany</text>
<polyline points="130.50,441.40 186.28,467.87 242.06,467.87 297.84,467.87 353.62,467.87 409.40,520.81 465.18,547.27 520.96,547.27" fill="none" stroke="#e39528" stroke-width="2" stroke-linejoin="round"/>
<circle cx="130.50" cy="441.40" r="4.9" fill="#e39528"/>
<circle cx="186.28" cy="467.87" r="4.9" fill="#e39528"/>
<circle cx="242.06" cy="467.87" r="4.9" fill="#e39528"/>
<circle cx="297.84" cy="467.87" r="4.9" fill="#e39528"/>
<circle cx="353.62" cy="467.87" r="4.9" fill="#e39528"/>
<circle cx="409.40" cy="520.81" r="4.9" fill="#e39528"/>
<circle cx="465.18" cy="547.27" r="4.9" fill="#e39528"/>
<circle cx="520.96" cy="547.27" r="4.9" fill="#e39528"/>
<text x="124.2" y="443.60" font-family="Liberation Sans, Arial, sans-serif" font-size="7.75" text-anchor="end" fill="#e39528">France</text>
<polyline points="130.50,414.94 186.28,414.94 242.06,441.40 297.84,441.40 353.62,414.94 409.40,441.40 465.18,414.94 520.96,441.40 576.74,441.40" fill="none" stroke="#9cb07a" stroke-width="2" stroke-linejoin="round"/>
<circle cx="130.50" cy="414.94" r="4.9" fill="#9cb07a"/>
<circle cx="186.28" cy="414.94" r="4.9" fill="#9cb07a"/>
<circle cx="242.06" cy="441.40" r="4.9" fill="#9cb07a"/>
<circle cx="297.84" cy="441.40" r="4.9" fill="#9cb07a"/>
<circle cx="353.62" cy="414.94" r="4.9" fill="#9cb07a"/>
<circle cx="409.40" cy="441.40" r="4.9" fill="#9cb07a"/>
<circle cx="465.18" cy="414.94" r="4.9" fill="#9cb07a"/>
<circle cx="520.96" cy="441.40" r="4.9" fill="#9cb07a"/>
<circle cx="576.74" cy="441.40" r="4.9" fill="#9cb07a"/>
<text x="124.2" y="417.14" font-family="Liberation Sans, Arial, sans-serif" font-size="7.75" text-anchor="end" fill="#9cb07a">Australia</text>
<text x="588.0" y="443.60" font-family="Liberation Sans, Arial, sans-serif" font-size="7.75" fill="#9cb07a">Australia</text>
<polyline points="130.50,388.47 186.28,388.47 242.06,414.94 297.84,414.94 353.62,441.40 409.40,388.47 465.18,467.87 520.96,467.87 576.74,520.81" fill="none" stroke="#5b6d42" stroke-width="2" stroke-linejoin="round"/>
<circle cx="130.50" cy="388.47" r="4.9" fill="#5b6d42"/>
<circle cx="186.28" cy="388.47" r="4.9" fill="#5b6d42"/>
<circle cx="242.06" cy="414.94" r="4.9" fill="#5b6d42"/>
<circle cx="297.84" cy="414.94" r="4.9" fill="#5b6d42"/>
<circle cx="353.62" cy="441.40" r="4.9" fill="#5b6d42"/>
<circle cx="409.40" cy="388.47" r="4.9" fill="#5b6d42"/>
<circle cx="465.18" cy="467.87" r="4.9" fill="#5b6d42"/>
<circle cx="520.96" cy="467.87" r="4.9" fill="#5b6d42"/>
<circle cx="576.74" cy="520.81" r="4.9" fill="#5b6d42"/>
<text x="124.2" y="390.67" font-family="Liberation Sans, Arial, sans-serif" font-size="7.75" text-anchor="end" fill="#5b6d42">Canada</text>
<text x="588.0" y="523.01" font-family="Liberation Sans, Arial, sans-serif" font-size="7.75" fill="#5b6d42">Canada</text>
<polyline points="130.50,362.00 186.28,362.00 242.06,388.47 297.84,388.47 353.62,388.47 409.40,494.34 465.18,520.81" fill="none" stroke="#b96a0d" stroke-width="2" stroke-linejoin="round"/>
<circle cx="130.50" cy="362.00" r="4.9" fill="#b96a0d"/>
<circle cx="186.28" cy="362.00" r="4.9" fill="#b96a0d"/>
<circle cx="242.06" cy="388.47" r="4.9" fill="#b96a0d"/>
<circle cx="297.84" cy="388.47" r="4.9" fill="#b96a0d"/>
<circle cx="353.62" cy="388.47" r="4.9" fill="#b96a0d"/>
<circle cx="409.40" cy="494.34" r="4.9" fill="#b96a0d"/>
<circle cx="465.18" cy="520.81" r="4.9" fill="#b96a0d"/>
<text x="124.2" y="364.20" font-family="Liberation Sans, Arial, sans-serif" font-size="7.75" text-anchor="end" fill="#b96a0d">United Kingdom</text>
<polyline points="130.50,335.54 186.28,335.54 242.06,335.54 297.84,335.54 353.62,335.54 409.40,362.00 465.18,362.00 520.96,362.00 576.74,414.94" fill="none" stroke="#6c8540" stroke-width="2" stroke-linejoin="round"/>
<circle cx="130.50" cy="335.54" r="4.9" fill="#6c8540"/>
<circle cx="186.28" cy="335.54" r="4.9" fill="#6c8540"/>
<circle cx="242.06" cy="335.54" r="4.9" fill="#6c8540"/>
<circle cx="297.84" cy="335.54" r="4.9" fill="#6c8540"/>
<circle cx="353.62" cy="335.54" r="4.9" fill="#6c8540"/>
<circle cx="409.40" cy="362.00" r="4.9" fill="#6c8540"/>
<circle cx="465.18" cy="362.00" r="4.9" fill="#6c8540"/>
<circle cx="520.96" cy="362.00" r="4.9" fill="#6c8540"/>
<circle cx="576.74" cy="414.94" r="4.9" fill="#6c8540"/>
<text x="124.2" y="337.74" font-family="Liberation Sans, Arial, sans-serif" font-size="7.75" text-anchor="end" fill="#6c8540">Japan</text>
<text x="588.0" y="417.14" font-family="Liberation Sans, Arial, sans-serif" font-size="7.75" fill="#6c8540">Japan</text>
<polyline points="130.50,467.87 186.28,441.40 242.06,362.00 297.84,362.00 353.62,362.00 409.40,335.54 465.18,335.54 520.96,335.54 576.74,309.07" fill="none" stroke="#a83133" stroke-width="2" stroke-linejoin="round"/>
<circle cx="130.50" cy="467.87" r="4.9" fill="#a83133"/>
<circle cx="186.28" cy="441.40" r="4.9" fill="#a83133"/>
<circle cx="242.06" cy="362.00" r="4.9" fill="#a83133"/>
<circle cx="297.84" cy="362.00" r="4.9" fill="#a83133"/>
<circle cx="353.62" cy="362.00" r="4.9" fill="#a83133"/>
<circle cx="409.40" cy="335.54" r="4.9" fill="#a83133"/>
<circle cx="465.18" cy="335.54" r="4.9" fill="#a83133"/>
<circle cx="520.96" cy="335.54" r="4.9" fill="#a83133"/>
<circle cx="576.74" cy="309.07" r="4.9" fill="#a83133"/>
<text x="124.2" y="470.07" font-family="Liberation Sans, Arial, sans-serif" font-size="7.75" text-anchor="end" fill="#a83133">China</text>
<text x="588.0" y="311.27" font-family="Liberation Sans, Arial, sans-serif" font-size="7.75" fill="#a83133">China</text>
<polyline points="130.50,309.07 186.28,309.07 242.06,309.07 297.84,309.07 353.62,309.07 409.40,309.07 465.18,309.07 520.96,309.07 576.74,335.54" fill="none" stroke="#0f5877" stroke-width="2" stroke-linejoin="round"/>
<circle cx="130.50" cy="309.07" r="4.9" fill="#0f5877"/>
<circle cx="186.28" cy="309.07" r="4.9" fill="#0f5877"/>
<circle cx="242.06" cy="309.07" r="4.9" fill="#0f5877"/>
<circle cx="297.84" cy="309.07" r="4.9" fill="#0f5877"/>
<circle cx="353.62" cy="309.07" r="4.9" fill="#0f5877"/>
<circle cx="409.40" cy="309.07" r="4.9" fill="#0f5877"/>
<circle cx="465.18" cy="309.07" r="4.9" fill="#0f5877"/>
<circle cx="520.96" cy="309.07" r="4.9" fill="#0f5877"/>
<circle cx="576.74" cy="335.54" r="4.9" fill="#0f5877"/>
<text x="124.2" y="311.27" font-family="Liberation Sans, Arial, sans-serif" font-size="7.75" text-anchor="end" fill="#0f5877">United States</text>
<text x="588.0" y="337.74" font-family="Liberation Sans, Arial, sans-serif" font-size="7.75" fill="#0f5877">United States</text>
<circle cx="737.6" cy="308.90" r="5.6" fill="#a83133"/>
<text x="727.3" y="311.10" font-family="Liberation Sans, Arial, sans-serif" font-size="7.75" text-anchor="end" fill="#a83133">China</text>
<text x="747.8" y="311.10" font-family="Liberation Sans, Arial, sans-serif" font-size="7.75" fill="#a83133">17.6%</text>
<circle cx="737.6" cy="335.50" r="5.35" fill="#0f5877"/>
<text x="727.3" y="337.70" font-family="Liberation Sans, Arial, sans-serif" font-size="7.75" text-anchor="end" fill="#0f5877">United States</text>
<text x="747.8" y="337.70" font-family="Liberation Sans, Arial, sans-serif" font-size="7.75" fill="#0f5877">15.8%</text>
<circle cx="737.6" cy="362.10" r="3.1" fill="#9b9b8e"/>
<text x="727.3" y="364.30" font-family="Liberation Sans, Arial, sans-serif" font-size="7.75" text-anchor="end" fill="#9b9b8e">India</text>
<text x="747.8" y="364.30" font-family="Liberation Sans, Arial, sans-serif" font-size="7.75" fill="#9b9b8e">4.9%</text>
<circle cx="737.6" cy="388.70" r="2.85" fill="#b7b0a8"/>
<text x="727.3" y="390.90" font-family="Liberation Sans, Arial, sans-serif" font-size="7.75" text-anchor="end" fill="#b7b0a8">Brazil</text>
<text x="747.8" y="390.90" font-family="Liberation Sans, Arial, sans-serif" font-size="7.75" fill="#b7b0a8">3.8%</text>
<circle cx="737.6" cy="415.30" r="2.75" fill="#6c8540"/>
<text x="727.3" y="417.50" font-family="Liberation Sans, Arial, sans-serif" font-size="7.75" text-anchor="end" fill="#6c8540">Japan</text>
<text x="747.8" y="417.50" font-family="Liberation Sans, Arial, sans-serif" font-size="7.75" fill="#6c8540">3.6%</text>
<circle cx="737.6" cy="441.90" r="2.55" fill="#9cb07a"/>
<text x="727.3" y="444.10" font-family="Liberation Sans, Arial, sans-serif" font-size="7.75" text-anchor="end" fill="#9cb07a">Australia</text>
<text x="747.8" y="444.10" font-family="Liberation Sans, Arial, sans-serif" font-size="7.75" fill="#9cb07a">2.7%</text>
<circle cx="737.6" cy="468.50" r="2.45" fill="#f6be4b"/>
<text x="727.3" y="470.70" font-family="Liberation Sans, Arial, sans-serif" font-size="7.75" text-anchor="end" fill="#f6be4b">Italy</text>
<text x="747.8" y="470.70" font-family="Liberation Sans, Arial, sans-serif" font-size="7.75" fill="#f6be4b">2.5%</text>
<circle cx="737.6" cy="495.10" r="2.4" fill="#a3a39a"/>
<text x="727.3" y="497.30" font-family="Liberation Sans, Arial, sans-serif" font-size="7.75" text-anchor="end" fill="#a3a39a">Indonesia</text>
<text x="747.8" y="497.30" font-family="Liberation Sans, Arial, sans-serif" font-size="7.75" fill="#a3a39a">2.3%</text>
<circle cx="737.6" cy="521.70" r="2.35" fill="#5b6d42"/>
<text x="727.3" y="523.90" font-family="Liberation Sans, Arial, sans-serif" font-size="7.75" text-anchor="end" fill="#5b6d42">Canada</text>
<text x="747.8" y="523.90" font-family="Liberation Sans, Arial, sans-serif" font-size="7.75" fill="#5b6d42">2.2%</text>
<circle cx="737.6" cy="548.30" r="2.35" fill="#e8c02c"/>
<text x="727.3" y="550.50" font-family="Liberation Sans, Arial, sans-serif" font-size="7.75" text-anchor="end" fill="#e8c02c">Germany</text>
<text x="747.8" y="550.50" font-family="Liberation Sans, Arial, sans-serif" font-size="7.75" fill="#e8c02c">2.2%</text>
<text x="737.5" y="588.1" font-family="Liberation Sans, Arial, sans-serif" font-size="7.75" text-anchor="middle" fill="#222">2020 Share</text>
</svg>
<div class="title">Fig 3:<span style="margin-left:1.8px"></span> Distribution and Trend of Research Geographic Focus (1980-2022)</div>
<div class="ln" style="top:633.60px;word-spacing:-0.145px"><i>Note:</i><span style="margin-left:1.6px"></span> This figure shows the share of publications by geographic focus from 1980 to 2022.<span style="margin-left:1.5px"></span> Panel (a) shows</div>
<div class="ln" style="top:653.60px;word-spacing:0.725px">the overall share of the 5 regions, separately for all publications, publications in the top 5% journals, and</div>
<div class="ln" style="top:673.60px;word-spacing:1.26px">breakthrough publications.<span style="margin-left:5.5px"></span> Panel (b) shows the corresponding trend overtime.<span style="margin-left:5.5px"></span> Panel (c) shows a bump</div>
<div class="ln" style="top:693.60px;word-spacing:0.253px">chart every 5 years at country level for all publications, and Panel (d) show the 2020 share of publications</div>
<div class="ln" style="top:713.60px;word-spacing:0px">at country level, corresponding with the last column of the bump chart.</div>

</body></html>
